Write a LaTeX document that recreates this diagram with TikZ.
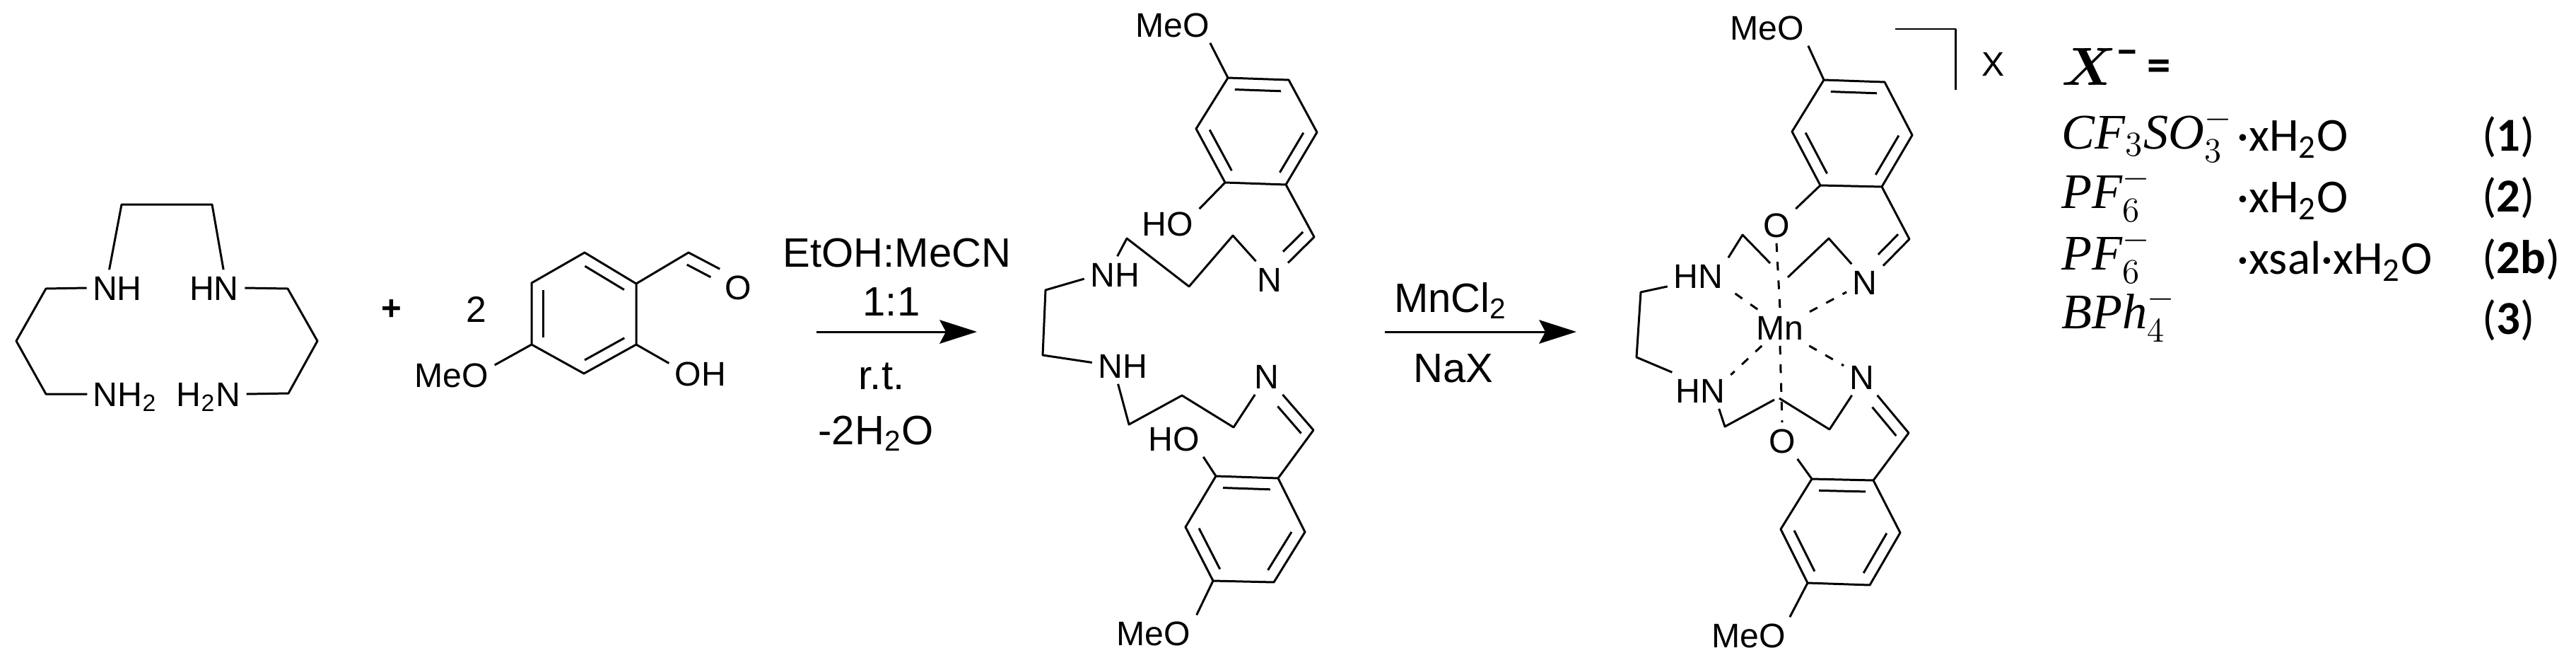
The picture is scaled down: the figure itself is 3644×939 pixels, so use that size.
\documentclass[tikz,border=0pt]{standalone}
\usepackage{fix-cm}
\usepackage[no-math]{fontspec}
\usepackage{amsmath}
\setmainfont{Liberation Sans}
\newfontfamily\calibfont{Carlito}
\newfontfamily\ionfont{Liberation Serif}
\usetikzlibrary{arrows.meta,positioning,calc}
\newcommand{\inbond}[2]{\draw ($(#1)!.12!(#2)!4.6pt!-90:(#2)$) -- ($(#2)!.12!(#1)!4.6pt!90:(#1)$);}

\begin{document}
\begin{tikzpicture}[
            x=0.01cm,y=-0.01cm,
            line width=.85pt,line join=round,
            atom/.style={inner sep=2pt,text height=9.8pt,text depth=0pt,font=\fontsize{13.7}{16}\selectfont},
            cond/.style={on grid,inner sep=0pt,text height=11.8pt,text depth=0pt,font=\fontsize{16.5}{20}\selectfont},
            ion/.style={anchor=base west,inner sep=0pt,text height=13pt,text depth=0pt,font=\ionfont\itshape\fontsize{20}{24}\selectfont},
            hyd/.style={anchor=base west,inner sep=0pt,text height=13pt,text depth=0pt,font=\calibfont\fontsize{19}{24}\selectfont},
            metal/.style={dash pattern=on 3.5pt off 4pt},
            >={Stealth[length=15pt,width=9.5pt,inset=2.5pt]}
        ]
        \useasboundingbox (0,0) rectangle (3644,939);

        % Draw ring corners %
        \foreach \n/\x/\y in {ar1/827/357,ar2/900/401,ar3/900/487,ar4/826/528,ar5/752/487,ar6/752/400,
                lt1/1737/110,lt2/1823/113,lt3/1863/187,lt4/1819/261,lt5/1733/258,lt6/1692/182,
                lb1/1720/673,lb2/1808/676,lb3/1846/752,lb4/1802/823,lb5/1716/821,lb6/1677/745,
                ct1/2580/113,ct2/2666/116,ct3/2705/191,ct4/2662/264,ct5/2575/262,ct6/2535/186,
                cb1/2563/677,cb2/2650/679,cb3/2688/753,cb4/2645/827,cb5/2557/824,cb6/2519/748}
            \coordinate (\n) at (\x,\y);
        \foreach \r in {ar,lt,lb,ct,cb}{
            \draw (\r1) -- (\r2) -- (\r3) -- (\r4) -- (\r5) -- (\r6) -- cycle;
            \inbond{\r1}{\r2}
            \inbond{\r3}{\r4}
            \inbond{\r5}{\r6}
        }

        % Draw tetraamine %
        \node[atom] (nha) at (166,407) {NH};
        \node[atom] (hna) at (303,407) {HN};
        \node[atom] (nhb) at (177,557) {NH\textsubscript{2}};
        \node[atom] (hnb) at (295,557) {H\textsubscript{2}N};
        \coordinate (ta1) at (172,289);
        \coordinate (ta2) at (300,289);
        \coordinate (ta3) at (65,408);
        \coordinate (ta4) at (23,482);
        \coordinate (ta5) at (65,557);
        \coordinate (ta6) at (407,408);
        \coordinate (ta7) at (449,482);
        \coordinate (ta8) at (408,556);
        \draw (nha.114) -- (ta1) -- (ta2) -- (hna.63);
        \draw (nha.west) -- (ta3) -- (ta4) -- (ta5) -- (nhb.west);
        \draw (hna.east) -- (ta6) -- (ta7) -- (ta8) -- (hnb.east);

        % Draw aldehyde %
        \node[atom,font=\bfseries\fontsize{14}{16}\selectfont] (plus) at (554,435) {+};
        \node[atom,font=\fontsize{14.7}{16}\selectfont] (two) at (674,438) {2};
        \node[atom] (meoa) at (639,530) {MeO};
        \node[atom] (oha) at (991,528) {OH};
        \node[atom] (oxa) at (1044,406) {O};
        \coordinate (cho) at (974,357);
        \draw (ar5) -- (meoa.13);
        \draw (ar3) -- (oha.162);
        \draw (ar2) -- (cho) -- (oxa.135);
        \inbond{cho}{oxa.135}

        % Draw first arrow %
        \coordinate (arwa) at (1155,469);
        \coordinate (arwb) at (1382,469);
        \draw[->] (arwa) -- (arwb);
        \node[cond] (solv) at (1269,357) {EtOH:MeCN};
        \node[cond,below=.69cm of solv,xshift=-.08cm] (ratio) {1:1};
        \node[cond,below=1.04cm of ratio,xshift=-.14cm] (rt) {r.t.};
        \node[cond,below=.78cm of rt,xshift=-.08cm] (water) {-2H\textsubscript{2}O};

        % Draw ligand %
        \node[atom] (meot) at (1659,35) {MeO};
        \node[atom] (hot) at (1652,316) {HO};
        \node[atom] (nt) at (1796,395) {N};
        \node[atom] (nht) at (1577,388) {NH};
        \node[atom] (nhu) at (1588,517) {NH};
        \node[atom] (nu) at (1792,532) {N};
        \node[atom] (hou) at (1661,620) {HO};
        \node[atom] (meou) at (1632,895) {MeO};
        \coordinate (lva) at (1859,335);
        \coordinate (lt7) at (1744,333);
        \coordinate (lt8) at (1682,405);
        \coordinate (lt9) at (1594,337);
        \coordinate (lm1) at (1479,410);
        \coordinate (lm2) at (1475,502);
        \coordinate (lu7) at (1597,600);
        \coordinate (lu8) at (1672,559);
        \coordinate (lu9) at (1745,604);
        \coordinate (lvb) at (1858,608);
        \draw (lt1) -- (meot.-26);
        \draw (lt5) -- (hot.25);
        \draw (lt4) -- (lva) -- (nt.42);
        \inbond{lva}{nt.42}
        \draw (nt.127) -- (lt7) -- (lt8) -- (lt9) -- (nht.82);
        \draw (nht.188) -- (lm1) -- (lm2) -- (nhu.174);
        \draw (nhu.256) -- (lu7) -- (lu8) -- (lu9) -- (nu.237);
        \draw (nu.-49) -- (lvb) -- (lb2);
        \inbond{nu.-49}{lvb}
        \draw (lb1) -- (hou.-32);
        \draw (lb5) -- (meou.23);

        % Draw second arrow %
        \coordinate (arwc) at (1959,469);
        \coordinate (arwd) at (2230,469);
        \draw[->] (arwc) -- (arwd);
        \node[cond] (mncl) at (2052,421) {MnCl\textsubscript{2}};
        \node[cond,below=.99cm of mncl,xshift=.04cm] (nax) {NaX};

        % Draw complex %
        \node[atom] (meoc) at (2500,39) {MeO};
        \node[atom] (oct) at (2513,318) {O};
        \node[atom] (nct) at (2638,399) {N};
        \node[atom] (hnct) at (2402,390) {HN};
        \node[atom] (mn) at (2518,463) {Mn};
        \node[atom] (hncb) at (2405,552) {HN};
        \node[atom] (ncb) at (2634,533) {N};
        \node[atom] (ocb) at (2521,623) {O};
        \node[atom] (meod) at (2474,898) {MeO};
        \coordinate (cva) at (2701,338);
        \coordinate (ct7) at (2587,337);
        \coordinate (ct8) at (2529,392);
        \coordinate (ct9) at (2504,372);
        \coordinate (ct0) at (2465,332);
        \coordinate (cm1) at (2321,413);
        \coordinate (cm2) at (2315,505);
        \coordinate (cu7) at (2440,603);
        \coordinate (cu8) at (2510,565);
        \coordinate (cu9) at (2517,563);
        \coordinate (cu0) at (2588,607);
        \coordinate (cvb) at (2700,612);
        \draw (ct1) -- (meoc.-24);
        \draw (ct5) -- (oct.40);
        \draw (ct4) -- (cva) -- (nct.42);
        \inbond{cva}{nct.42}
        \draw (nct.126) -- (ct7) -- (ct8);
        \draw (ct9) -- (ct0) -- (hnct.31);
        \draw (hnct.199) -- (cm1) -- (cm2) -- (hncb.147);
        \draw (hncb.-44) -- (cu7) -- (cu8);
        \draw (cu9) -- (cu0) -- (ncb.241);
        \draw (ncb.-50) -- (cvb) -- (cb2);
        \inbond{ncb.-50}{cvb}
        \draw (ocb.-50) -- (cb1);
        \draw (cb5) -- (meod.24);

        % Draw coordination bonds %
        \draw[metal] (oct.-90) -- (mn.90);
        \draw[metal] (mn.-90) -- (ocb.90);
        \draw[metal] (mn.141) -- (hnct.-23);
        \draw[metal] (mn.28) -- (nct.208);
        \draw[metal] (mn.225) -- (hncb.27);
        \draw[metal] (mn.-32) -- (ncb.148);

        % Draw bracket %
        \coordinate (bra) at (2681,41);
        \coordinate (brb) at (2766,41);
        \coordinate (brc) at (2766,127);
        \draw (bra) -- (brb) -- (brc);
        \node[atom] (cnt) at (2820,90) {X};

        % Draw legend %
        \node[ion,font=\fontsize{21.6}{26}\selectfont] (ionx) at (2915,120) {{\boldmath$X^{\mbox{\calibfont\bfseries\fontsize{17}{17}\selectfont −}}$}};
        \node[hyd,font=\calibfont\bfseries\fontsize{19}{24}\selectfont] (eqs) at (3036,114) {=};
        \node[ion] (iona) at (2915,210) {CF$_3$SO$_3^-$};
        \node[ion] (ionb) at (2915,294) {PF$_6^-$};
        \node[ion] (ionc) at (2915,381) {PF$_6^-$};
        \node[ion] (iond) at (2915,464) {BPh$_4^-$};
        \node[hyd] (wata) at (3163,213) {·xH\textsubscript{2}O};
        \node[hyd] (watb) at (3163,300) {·xH\textsubscript{2}O};
        \node[hyd] (watc) at (3163,387) {·xsal·xH\textsubscript{2}O};
        \node[hyd] (laba) at (3510,213) {(\textbf{1})};
        \node[hyd] (labb) at (3510,299) {(\textbf{2})};
        \node[hyd] (labc) at (3510,386) {(\textbf{2b})};
        \node[hyd] (labd) at (3510,472) {(\textbf{3})};
\end{tikzpicture}
\end{document}
